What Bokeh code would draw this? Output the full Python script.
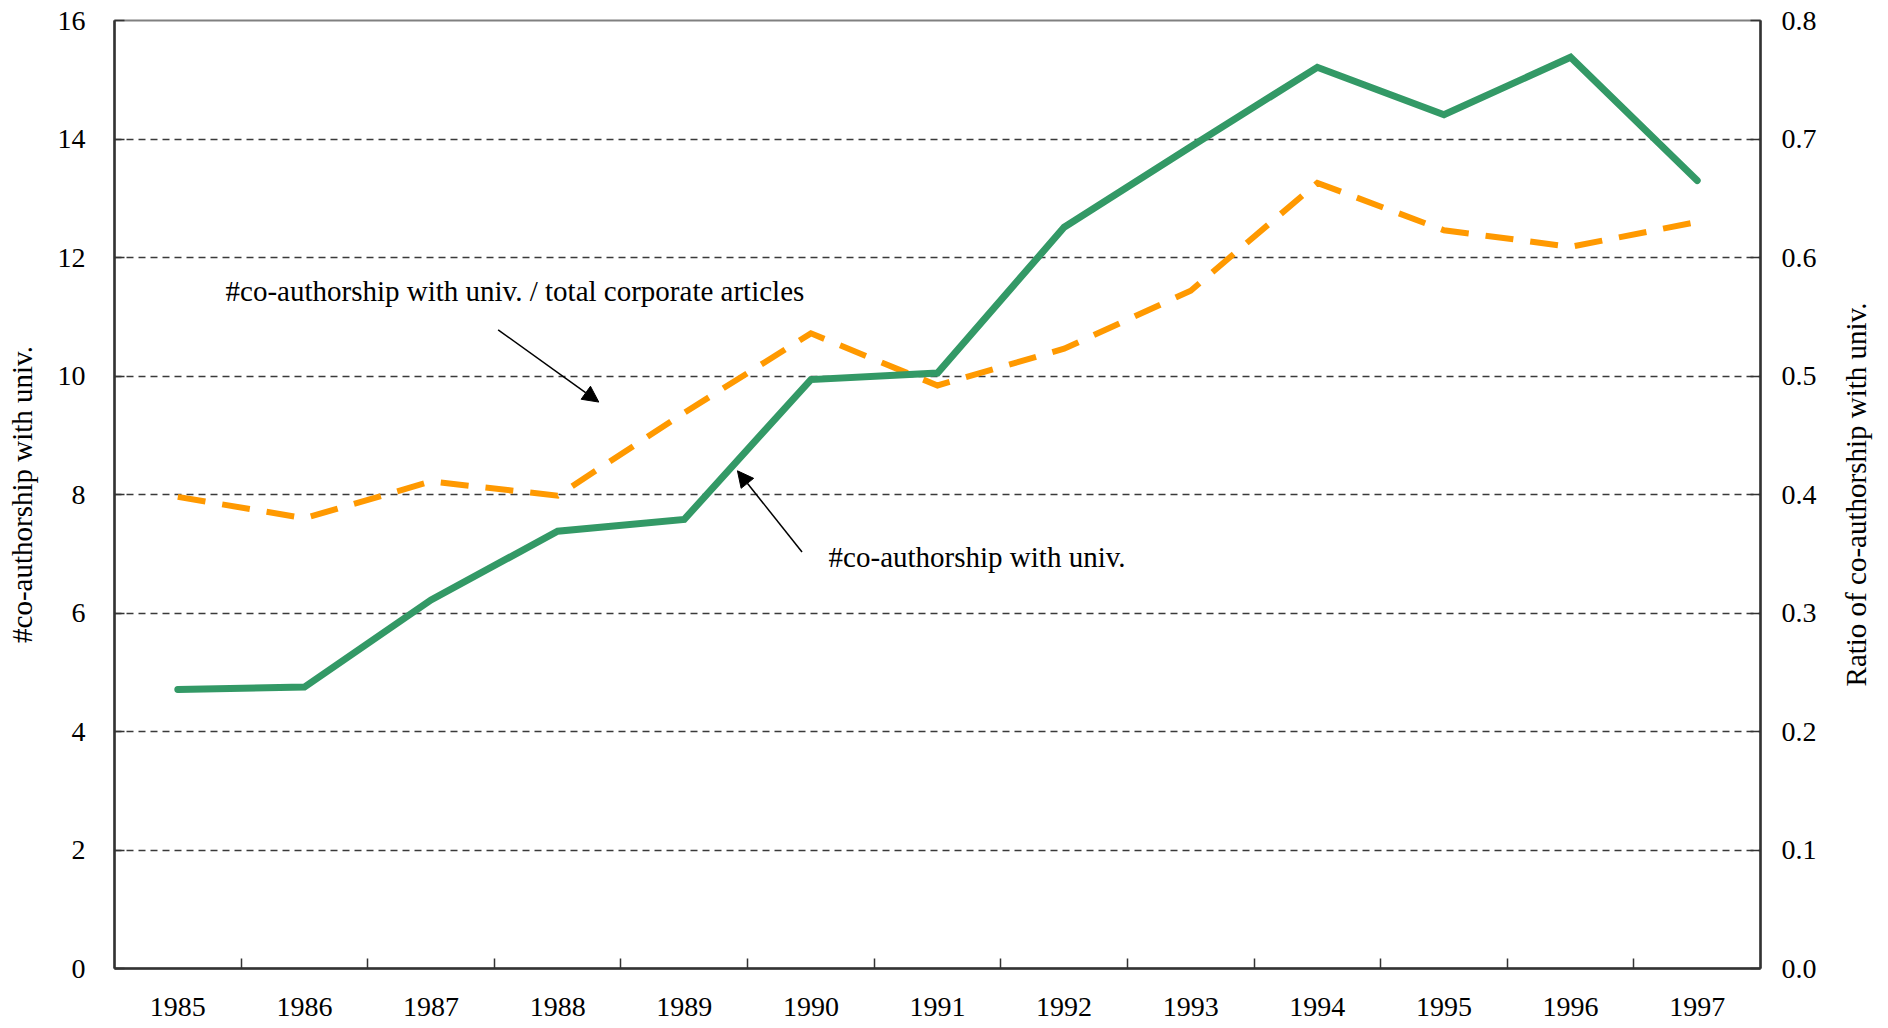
import math
from bokeh.plotting import figure
from bokeh.layouts import row
from bokeh.models import (Range1d, LinearAxis, FixedTicker, Label, Arrow, NormalHead,
                          ColumnDataSource)
from bokeh.core.properties import value
from bokeh.embed import file_html
from bokeh.resources import INLINE

# ---- data ----
years = ["1985", "1986", "1987", "1988", "1989", "1990", "1991",
         "1992", "1993", "1994", "1995", "1996", "1997"]
coauth_count = [4.71, 4.75, 6.22, 7.38, 7.58, 9.94, 10.05,
                12.51, 13.87, 15.21, 14.41, 15.38, 13.30]
coauth_ratio = [0.398, 0.380, 0.411, 0.399, 0.469, 0.536, 0.492,
                0.523, 0.572, 0.663, 0.623, 0.609, 0.630]
left_ticks = [0, 2, 4, 6, 8, 10, 12, 14, 16]
right_ticks = [0.0, 0.1, 0.2, 0.3, 0.4, 0.5, 0.6, 0.7, 0.8]
right_title = "Ratio of co-authorship with univ."

FONT = "Liberation Serif"
TICK_FS = "28px"
LAB_FS = "29px"
H = 1028
TOP = 20
BOTTOM = 60
xpos = [i + 0.5 for i in range(len(years))]

src = ColumnDataSource(dict(x=xpos, count=coauth_count, ratio=coauth_ratio))

p = figure(width=1840, height=H, output_backend="svg", toolbar_location=None,
           x_range=Range1d(0, len(years)), y_range=Range1d(0, 16),
           min_border_left=114, min_border_right=80, min_border_top=TOP,
           min_border_bottom=BOTTOM, background_fill_color="white",
           border_fill_color="white")
p.extra_y_ranges = {"ratio": Range1d(0, 0.8)}

p.outline_line_color = "#808080"
p.outline_line_width = 2

# x axis
xa = p.xaxis[0]
xa.ticker = FixedTicker(ticks=xpos, minor_ticks=list(range(1, len(years))))
xa.major_label_overrides = {x: y for x, y in zip(xpos, years)}
xa.major_tick_in = 0
xa.major_tick_out = 0
xa.minor_tick_in = 10
xa.minor_tick_out = 0
xa.minor_tick_line_color = "#333333"
xa.minor_tick_line_width = 1.5
xa.axis_line_color = "#333333"
xa.axis_line_width = 2.5
xa.major_label_text_font = FONT
xa.major_label_text_font_size = TICK_FS
xa.major_label_text_color = "black"
xa.major_label_standoff = 29

# left axis
ya = p.yaxis[0]
ya.ticker = FixedTicker(ticks=left_ticks)
ya.major_tick_in = 10
ya.major_tick_out = 0
ya.minor_tick_line_color = None
ya.major_tick_line_color = "#333333"
ya.major_tick_line_width = 1.5
ya.axis_line_color = "#333333"
ya.axis_line_width = 2.5
ya.major_label_text_font = FONT
ya.major_label_text_font_size = TICK_FS
ya.major_label_text_color = "black"
ya.major_label_standoff = 29
ya.axis_label = "#co-authorship with univ."
ya.axis_label_text_font = FONT
ya.axis_label_text_font_size = LAB_FS
ya.axis_label_text_font_style = "normal"
ya.axis_label_text_color = "black"
ya.axis_label_standoff = 17

# right axis
ra = LinearAxis(y_range_name="ratio", ticker=FixedTicker(ticks=right_ticks))
ra.major_label_overrides = {t: f"{t:.1f}" for t in right_ticks}
ra.major_tick_in = 10
ra.major_tick_out = 0
ra.minor_tick_line_color = None
ra.major_tick_line_color = "#333333"
ra.major_tick_line_width = 1.5
ra.axis_line_color = "#333333"
ra.axis_line_width = 2.5
ra.major_label_text_font = FONT
ra.major_label_text_font_size = TICK_FS
ra.major_label_text_color = "black"
ra.major_label_standoff = 21
p.add_layout(ra, "right")

# grid
p.xgrid.grid_line_color = None
p.ygrid.ticker = FixedTicker(ticks=left_ticks[1:-1])
p.ygrid.grid_line_color = "#3a3a3a"
p.ygrid.grid_line_width = 1.3
p.ygrid.grid_line_dash = "7 5"

# series
p.line("x", "ratio", source=src, y_range_name="ratio", line_color="#FF9900",
       line_width=6, line_dash="28 17", line_cap="butt", line_join="miter")
p.line("x", "count", source=src, line_color="#339966", line_width=7,
       line_cap="round", line_join="miter")

# annotations
p.add_layout(Label(x=0.877, y=11.43, text="#co-authorship with univ. / total corporate articles",
                   text_font=FONT, text_font_size=LAB_FS, text_color="black",
                   text_baseline="middle", text_align="left"))
p.add_layout(Label(x=5.64, y=6.94, text="#co-authorship with univ.",
                   text_font=FONT, text_font_size=LAB_FS, text_color="black",
                   text_baseline="middle", text_align="left"))
p.add_layout(Arrow(x_start=3.03, y_start=10.78, x_end=3.825, y_end=9.56,
                   line_color="black", line_width=1.5,
                   end=NormalHead(size=16, fill_color="black", line_color="black")))
p.add_layout(Arrow(x_start=5.43, y_start=7.03, x_end=4.92, y_end=8.40,
                   line_color="black", line_width=1.5,
                   end=NormalHead(size=16, fill_color="black", line_color="black")))

# narrow strip carrying the right-axis title, reading bottom-to-top
p2 = figure(width=44, height=H, output_backend="svg", toolbar_location=None,
            x_range=Range1d(0, 44), y_range=Range1d(0, 16),
            min_border_left=0, min_border_right=0, min_border_top=TOP,
            min_border_bottom=BOTTOM, background_fill_color="white",
            border_fill_color="white")
p2.axis.visible = False
p2.grid.visible = False
p2.outline_line_color = None
p2.text(x=[15], y=[8], text=[right_title], angle=math.pi / 2,
        text_font=value(FONT), text_font_size=LAB_FS, text_color="black",
        text_align="center", text_baseline="middle")

layout = row(p, p2, spacing=0)
open("out.html", "w").write(file_html(layout, INLINE))
